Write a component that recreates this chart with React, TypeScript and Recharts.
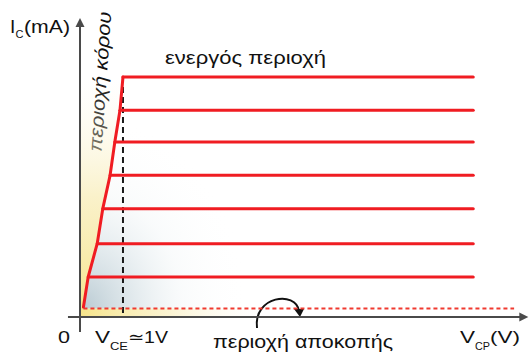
import React from 'react';
import { ComposedChart, Line, Area, XAxis, YAxis, ReferenceLine, Customized } from 'recharts';

// collector current levels of the output characteristic curves (mA)
const curveLevels = [1.2, 2.2, 3.25, 4.25, 5.25, 6.2, 7.2];
// V_CE where each curve leaves the saturation region (V)
const kneeVoltages = [0.19, 0.4, 0.53, 0.7, 0.81, 0.93, 1.0];
const satStartV = 0.08;
const satStartI = 0.3;
const curveEndV = 9.15;
const vceSat = 1.0;
const cutoffI = 0.255;
const cutoffEndV = 10.1;
const grayEndV = 4.6;
const yellowStripEndV = 4.2;
const xDomain = [0, 10.4];
const yDomain = [0, 9];

const W = 529;
const H = 352;
const M = { top: 17, right: 2, bottom: 35, left: 80 };

const satData = [{ x: satStartV, y: satStartI }, ...kneeVoltages.map((x, i) => ({ x, y: curveLevels[i] }))];
const curves = curveLevels.map((lvl, i) => [
  { x: kneeVoltages[i], y: lvl },
  { x: curveEndV, y: lvl },
]);
const topLevel = curveLevels[curveLevels.length - 1];
const yellowWedge = [
  { x: 0, r: [0, topLevel] },
  { x: satStartV, r: [satStartI, topLevel] },
  ...kneeVoltages.map((x, i) => ({ x, r: [curveLevels[i], topLevel] })),
];
const grayRegion = [
  { x: satStartV, r: [cutoffI, satStartI] },
  ...kneeVoltages.map((x, i) => ({ x, r: [cutoffI, curveLevels[i]] })),
  { x: grayEndV, r: [cutoffI, topLevel] },
];
const yellowStrip = [
  { x: 0, r: [0, cutoffI] },
  { x: yellowStripEndV, r: [0, cutoffI] },
];

const RED = '#f01c22';
const AXIS = '#4a4a4a';
const FONT = '"Liberation Sans", Arial, sans-serif';

const arrowShape = (dir: 'up' | 'right') => (p: any) => {
  const { x1, y1, x2, y2 } = p;
  let pts = '';
  let lx2 = x2;
  let ly2 = y2;
  if (dir === 'right') {
    const tx = Math.max(x1, x2);
    pts = `${tx},${y1} ${tx - 9},${y1 - 4.5} ${tx - 9},${y1 + 4.5}`;
    lx2 = tx - 6;
  } else {
    const ty = Math.min(y1, y2);
    pts = `${x1},${ty} ${x1 - 4.5},${ty + 9} ${x1 + 4.5},${ty + 9}`;
    ly2 = ty + 6;
  }
  const sx = dir === 'right' ? Math.min(x1, x2) : x1;
  const sy = dir === 'right' ? y1 : Math.max(y1, y2);
  return (
    <g>
      <line x1={sx} y1={sy} x2={lx2} y2={ly2} stroke={AXIS} strokeWidth={2} />
      <polygon points={pts} fill={AXIS} />
    </g>
  );
};

const Annotations = () => (
  <g fontFamily={FONT} fill="#111">
    <text x={10} y={33} fontSize={19}>I</text>
    <text x={15.5} y={38} fontSize={11}>C</text>
    <text x={24} y={33} fontSize={19} textLength={46} lengthAdjust="spacingAndGlyphs">(mA)</text>

    <text transform="translate(101.5,152) rotate(-86)" fontSize={19} fontStyle="italic" textLength={140} lengthAdjust="spacingAndGlyphs">περιοχή κόρου</text>

    <text x={165} y={64} fontSize={19} textLength={161} lengthAdjust="spacingAndGlyphs">ενεργός περιοχή</text>

    <text x={58} y={343} fontSize={17} textLength={12} lengthAdjust="spacingAndGlyphs">0</text>

    <text x={95} y={343} fontSize={17} textLength={15} lengthAdjust="spacingAndGlyphs">V</text>
    <text x={110} y={350} fontSize={11} textLength={18} lengthAdjust="spacingAndGlyphs">CE</text>
    <text x={128} y={343} fontSize={17} textLength={40} lengthAdjust="spacingAndGlyphs">≃1V</text>

    <text x={213} y={348} fontSize={18} textLength={180} lengthAdjust="spacingAndGlyphs">περιοχή αποκοπής</text>

    <text x={460} y={343} fontSize={17} textLength={15} lengthAdjust="spacingAndGlyphs">V</text>
    <text x={475} y={350} fontSize={11} textLength={15} lengthAdjust="spacingAndGlyphs">CP</text>
    <text x={490} y={343} fontSize={17} textLength={30} lengthAdjust="spacingAndGlyphs">(V)</text>

    <path d="M257,328 C253,296 296,290 299,311" fill="none" stroke="#111" strokeWidth={2} />
    <polygon points="294,309 304,309 300,317" fill="#111" />
  </g>
);

export default function App() {
  return (
    <div style={{ width: W, height: H, background: '#fff' }}>
      <style>{`body{margin:0;background:#fff}`}</style>
      <ComposedChart width={W} height={H} margin={M}>
        <defs>
          <linearGradient id="yellowFade" x1="0" y1="1" x2="0" y2="0">
            <stop offset="0" stopColor="#f6e48a" stopOpacity={1} />
            <stop offset="0.5" stopColor="#f8edb8" stopOpacity={0.75} />
            <stop offset="1" stopColor="#fdf8e6" stopOpacity={0} />
          </linearGradient>
          <linearGradient id="stripFade" x1="0" y1="0" x2="1" y2="0">
            <stop offset="0" stopColor="#f6e48a" stopOpacity={1} />
            <stop offset="0.5" stopColor="#f8ecb5" stopOpacity={0.6} />
            <stop offset="1" stopColor="#fdf8e6" stopOpacity={0} />
          </linearGradient>
          <radialGradient id="grayFade" cx="0" cy="1" r="0.85" fx="0" fy="1">
            <stop offset="0" stopColor="#a9bec8" stopOpacity={0.8} />
            <stop offset="0.3" stopColor="#c3d3da" stopOpacity={0.5} />
            <stop offset="0.6" stopColor="#e0e9ec" stopOpacity={0.18} />
            <stop offset="1" stopColor="#ffffff" stopOpacity={0} />
          </radialGradient>
        </defs>
        <XAxis type="number" dataKey="x" domain={xDomain} hide allowDataOverflow />
        <YAxis type="number" domain={yDomain} hide allowDataOverflow />

        <Area data={yellowWedge} dataKey="r" type="linear" stroke="none" fill="url(#yellowFade)" fillOpacity={1} isAnimationActive={false} dot={false} activeDot={false} />
        <Area data={yellowStrip} dataKey="r" type="linear" stroke="none" fill="url(#stripFade)" fillOpacity={1} isAnimationActive={false} dot={false} activeDot={false} />
        <Area data={grayRegion} dataKey="r" type="linear" stroke="none" fill="url(#grayFade)" fillOpacity={1} isAnimationActive={false} dot={false} activeDot={false} />

        <ReferenceLine segment={[{ x: vceSat, y: topLevel }, { x: vceSat, y: 0 }]} stroke="#1a1a1a" strokeWidth={2} strokeDasharray="6 4" ifOverflow="visible" />
        <ReferenceLine segment={[{ x: satStartV, y: cutoffI }, { x: cutoffEndV, y: cutoffI }]} stroke="#f03a30" strokeWidth={2} strokeDasharray="4 3" ifOverflow="visible" />

        <Line data={satData} dataKey="y" type="linear" stroke={RED} strokeWidth={3} dot={false} activeDot={false} isAnimationActive={false} strokeLinejoin="round" strokeLinecap="round" />
        {curves.map((d, i) => (
          <Line key={i} data={d} dataKey="y" type="linear" stroke={RED} strokeWidth={3} dot={false} activeDot={false} isAnimationActive={false} strokeLinecap="round" />
        ))}

        <ReferenceLine segment={[{ x: -0.28, y: 0 }, { x: 10.43, y: 0 }]} ifOverflow="visible" shape={arrowShape('right')} />
        <ReferenceLine segment={[{ x: 0, y: -0.45 }, { x: 0, y: 8.97 }]} ifOverflow="visible" shape={arrowShape('up')} />

        <Customized component={Annotations} />
      </ComposedChart>
    </div>
  );
}
